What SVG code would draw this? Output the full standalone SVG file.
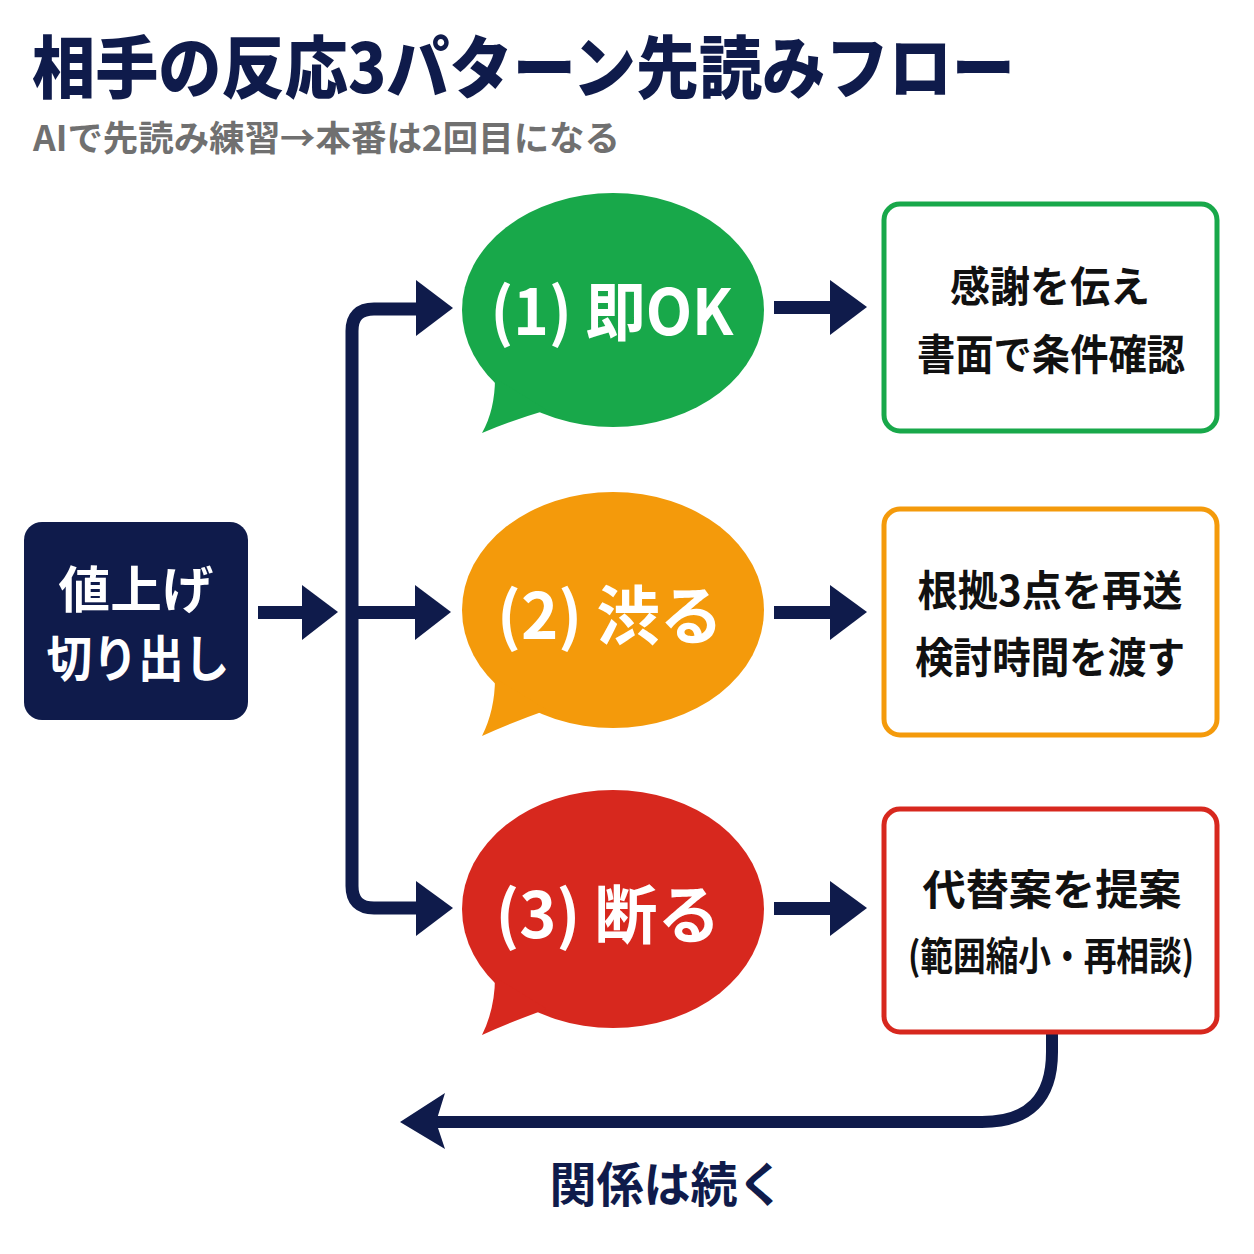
<svg xmlns="http://www.w3.org/2000/svg" width="1254" height="1254" viewBox="0 0 1254 1254">
<style>
  text { font-family: "Noto Sans CJK JP", "Noto Sans", sans-serif; font-weight: 700; }
  .title { font-size: 68px; font-weight: 900; fill: #0f1b4b; }
  .sub { font-size: 35px; fill: #707070; }
  .node { font-size: 50px; fill: #ffffff; text-anchor: middle; }
  .bub { font-size: 64px; fill: #ffffff; text-anchor: middle; }
  .box { font-size: 42px; fill: #111111; text-anchor: middle; }
  .box2 { font-size: 39px; fill: #111111; text-anchor: middle; }
  .lbl { font-size: 48px; fill: #0f1b4b; text-anchor: middle; }
  .line { fill: none; stroke: #0f1b4b; stroke-width: 13; }
  .head { fill: #0f1b4b; }
  .rbox { fill: #ffffff; stroke-width: 5; }
</style>
<rect width="1254" height="1254" fill="#ffffff"/>

<g id="title">
  <text class="title" x="32" y="93" textLength="983" lengthAdjust="spacingAndGlyphs">相手の反応3パターン先読みフロー</text>
  <text class="sub" x="33" y="151" textLength="587" lengthAdjust="spacingAndGlyphs">AIで先読み練習→本番は2回目になる</text>
</g>

<g id="connectors">
  <rect x="258" y="606" width="46" height="13" fill="#0f1b4b"/>
  <polygon class="head" points="302,585 338,612 302,640"/>
  <path class="line" d="M 420 309 H 374 Q 352 309 352 331 V 886 Q 352 908 374 908 H 420"/>
  <polygon class="head" points="416,280 453,308 416,336"/>
  <rect x="352" y="606" width="66" height="13" fill="#0f1b4b"/>
  <polygon class="head" points="415,585 451,612 415,640"/>
  <polygon class="head" points="416,881 453,908 416,936"/>
  <rect x="774" y="301" width="58" height="13" fill="#0f1b4b"/>
  <polygon class="head" points="830,280 867,307 830,335"/>
  <rect x="774" y="606" width="58" height="13" fill="#0f1b4b"/>
  <polygon class="head" points="830,585 867,612 830,640"/>
  <rect x="774" y="902" width="58" height="13" fill="#0f1b4b"/>
  <polygon class="head" points="830,881 867,908 830,936"/>
  <path class="line" style="stroke-width:12" d="M 1052 1033 V 1052 Q 1052 1122 982 1122 H 432"/>
  <polygon class="head" points="400,1122 445,1093 436,1122 445,1149"/>
  <text class="lbl" x="667" y="1202" textLength="235" lengthAdjust="spacingAndGlyphs">関係は続く</text>
</g>

<g id="start">
  <rect x="24" y="522" width="224" height="198" rx="18" fill="#0f1b4b"/>
  <text class="node" x="136" y="608" textLength="155" lengthAdjust="spacingAndGlyphs">値上げ</text>
  <text class="node" x="138" y="677" textLength="183" lengthAdjust="spacingAndGlyphs">切り出し</text>
</g>

<g id="bubble1">
  <g transform="translate(613,310)" fill="#18a84a">
    <ellipse cx="0" cy="0" rx="151" ry="117"/>
    <path d="M -118 68 Q -118 100 -131 123 Q -100 110 -66 100 Z"/>
  </g>
  <text class="bub" x="612" y="335" textLength="243" lengthAdjust="spacingAndGlyphs">(1) 即OK</text>
</g>

<g id="bubble2">
  <g transform="translate(613,610)" fill="#f49a0b">
    <ellipse cx="0" cy="0" rx="151" ry="118"/>
    <path d="M -118 68 Q -118 100 -131 126 Q -100 112 -66 100 Z"/>
  </g>
  <text class="bub" x="610" y="639" textLength="226" lengthAdjust="spacingAndGlyphs">(2) 渋る</text>
</g>

<g id="bubble3">
  <g transform="translate(613,909)" fill="#d7281e">
    <ellipse cx="0" cy="0" rx="151" ry="119"/>
    <path d="M -118 68 Q -118 100 -131 126 Q -100 112 -66 100 Z"/>
  </g>
  <text class="bub" x="608" y="938" textLength="225" lengthAdjust="spacingAndGlyphs">(3) 断る</text>
</g>

<g id="box1">
  <rect class="rbox" x="884" y="204" width="333" height="227" rx="16" stroke="#18a84a"/>
  <text class="box" x="1050" y="302" textLength="200" lengthAdjust="spacingAndGlyphs">感謝を伝え</text>
  <text class="box" x="1051" y="370" textLength="268" lengthAdjust="spacingAndGlyphs">書面で条件確認</text>
</g>

<g id="box2">
  <rect class="rbox" x="884" y="509" width="333" height="226" rx="16" stroke="#f49a0b"/>
  <text class="box" x="1050" y="606" textLength="265" lengthAdjust="spacingAndGlyphs">根拠3点を再送</text>
  <text class="box" x="1050" y="673" textLength="270" lengthAdjust="spacingAndGlyphs">検討時間を渡す</text>
</g>

<g id="box3">
  <rect class="rbox" x="884" y="809" width="333" height="223" rx="16" stroke="#d7281e"/>
  <text class="box" x="1052" y="905" textLength="259" lengthAdjust="spacingAndGlyphs">代替案を提案</text>
  <text class="box2" x="1051" y="970" textLength="286" lengthAdjust="spacingAndGlyphs">(範囲縮小・再相談)</text>
</g>
</svg>
